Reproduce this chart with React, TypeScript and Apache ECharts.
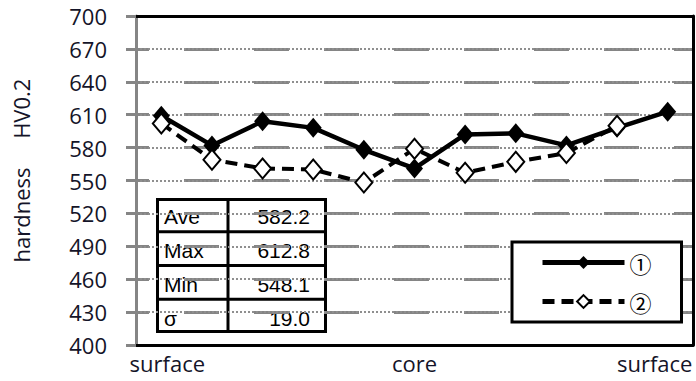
import React, { useEffect, useRef } from "react";
import * as echarts from "echarts";

const positions = ["1", "2", "3", "4", "5", "6", "7", "8", "9", "10", "11"];
const xTickLabels = ["surface", "", "", "", "", "core", "", "", "", "", "surface"];
const series1 = [609, 582, 604, 598, 578, 561, 592, 593, 582, 598, 612.8];
const series2: (number | null)[] = [602, 569, 561, 560, 548.1, 579, 557, 567, 575, 600, null];
const seriesNames = ["①", "②"];
const statLabels = ["Ave", "Max", "Min", "σ"];
const statValues = ["582.2", "612.8", "548.1", "19.0"];
const yAxisName = "hardness     HV0.2";

const TABLE = { left: 156, top: 198, width: 171, rowH: 33.75, split: 72, bw: 3 };

function buildTable() {
  const children: any[] = [];
  const n = statLabels.length;
  const h = TABLE.rowH * n;
  const bw = TABLE.bw;
  children.push({
    type: "rect",
    shape: { x: 0, y: 0, width: TABLE.width, height: h },
    style: { fill: "#000" },
  });
  statLabels.forEach((lab, i) => {
    const y0 = i * TABLE.rowH + (i === 0 ? bw : bw / 2);
    const y1 = (i + 1) * TABLE.rowH - (i === n - 1 ? bw : bw / 2);
    children.push({
      type: "rect",
      shape: { x: bw, y: y0, width: TABLE.split - bw - bw / 2, height: y1 - y0 },
      style: { fill: "#fff" },
    });
    children.push({
      type: "rect",
      shape: {
        x: TABLE.split + bw / 2,
        y: y0,
        width: TABLE.width - TABLE.split - bw / 2 - bw,
        height: y1 - y0,
      },
      style: { fill: "#fff" },
    });
    const cy = i * TABLE.rowH + TABLE.rowH / 2 + 2;
    children.push({
      type: "text",
      x: 8,
      y: cy,
      style: {
        text: lab,
        fill: "#000",
        font: '21px "Liberation Sans", Arial, sans-serif',
        textAlign: "left",
        textVerticalAlign: "middle",
      },
    });
    children.push({
      type: "text",
      x: TABLE.width - 17,
      y: cy,
      style: {
        text: statValues[i],
        fill: "#000",
        font: '21px "Liberation Sans", Arial, sans-serif',
        textAlign: "right",
        textVerticalAlign: "middle",
      },
    });
  });
  return {
    type: "group",
    left: TABLE.left,
    top: TABLE.top,
    z: 10,
    children,
  };
}

export default function App() {
  const ref = useRef<HTMLDivElement>(null);
  useEffect(() => {
    if (!ref.current) return;
    const chart = echarts.init(ref.current, null, { renderer: "svg" });
    const gridColor = "#858585";
    const labelColor = "#141428";
    chart.setOption({
      animation: false,
      backgroundColor: "#fff",
      grid: { left: 136, right: 3, top: 16, bottom: 36 },
      legend: {
        orient: "vertical",
        left: 512,
        top: 242,
        backgroundColor: "#fff",
        borderColor: "#000",
        borderWidth: 3,
        borderRadius: 0,
        padding: [9.5, 30, 9.5, 28],
        itemWidth: 82,
        itemHeight: 16,
        itemGap: 17,
        data: seriesNames,
        lineStyle: { width: 5 },
        textStyle: {
          fontSize: 22,
          lineHeight: 16,
          color: "#000",
          fontFamily: '"Noto Sans CJK JP", sans-serif',
        },
      },
      xAxis: [
        {
          type: "category",
          data: positions,
          boundaryGap: true,
          axisLine: { lineStyle: { color: "#000", width: 3 } },
          axisTick: { show: false },
          splitLine: { show: false },
          axisLabel: {
            interval: 0,
            margin: 7,
            fontSize: 22,
            fontFamily: '"Open Sans", sans-serif',
            color: labelColor,
            formatter: (_v: string, i: number) => {
              const t = xTickLabels[i];
              if (!t) return "";
              if (i === 0) return `{first|${t}}`;
              if (i === xTickLabels.length - 1) return `{last|${t}}`;
              return t;
            },
            rich: {
              first: {
                fontSize: 22,
                fontFamily: '"Open Sans", sans-serif',
                color: labelColor,
                padding: [0, 0, 0, 12],
              },
              last: {
                fontSize: 22,
                fontFamily: '"Open Sans", sans-serif',
                color: labelColor,
                padding: [0, 26, 0, 0],
              },
            },
          },
        },
        {
          type: "category",
          data: positions,
          position: "top",
          axisLine: { lineStyle: { color: "#000", width: 3 } },
          axisTick: { show: false },
          axisLabel: { show: false },
          splitLine: { show: false },
        },
      ],
      yAxis: [
        {
          type: "value",
          min: 400,
          max: 700,
          interval: 30,
          name: yAxisName,
          nameLocation: "middle",
          nameRotate: 90,
          nameGap: 104,
          nameTextStyle: {
            fontSize: 22,
            fontFamily: '"Open Sans", sans-serif',
            color: labelColor,
            padding: [0, 0, 0, 20],
          },
          axisLine: { show: true, lineStyle: { color: gridColor, width: 3 } },
          axisTick: { show: true, length: 10, lineStyle: { color: gridColor, width: 3 } },
          axisLabel: {
            margin: 29,
            fontSize: 22,
            fontFamily: '"Open Sans", sans-serif',
            color: labelColor,
          },
          splitLine: {
            show: true,
            lineStyle: { color: gridColor, width: 3, type: [35, 35], dashOffset: 22 },
          },
        },
        {
          type: "value",
          min: 400,
          max: 700,
          interval: 30,
          position: "right",
          axisLine: { show: true, lineStyle: { color: "#000", width: 3 } },
          axisTick: { show: false },
          axisLabel: { show: false },
          splitLine: {
            show: true,
            lineStyle: { color: "#8f8f8f", width: 2, type: [2, 2] },
          },
        },
      ],
      series: [
        {
          name: seriesNames[0],
          type: "line",
          data: series1,
          symbol: "diamond",
          symbolSize: [17, 20],
          lineStyle: { color: "#000", width: 4.5 },
          itemStyle: { color: "#000" },
          z: 3,
        },
        {
          name: seriesNames[1],
          type: "line",
          data: series2,
          symbol: "diamond",
          symbolSize: [17, 20],
          lineStyle: { color: "#000", width: 4, type: [12, 7] },
          itemStyle: { color: "#fff", borderColor: "#000", borderWidth: 2 },
          z: 4,
        },
      ],
      graphic: [buildTable()],
    });
    return () => chart.dispose();
  }, []);
  return (
    <div
      ref={ref}
      style={{ position: "fixed", left: 0, top: 0, width: 696, height: 381 }}
    />
  );
}
